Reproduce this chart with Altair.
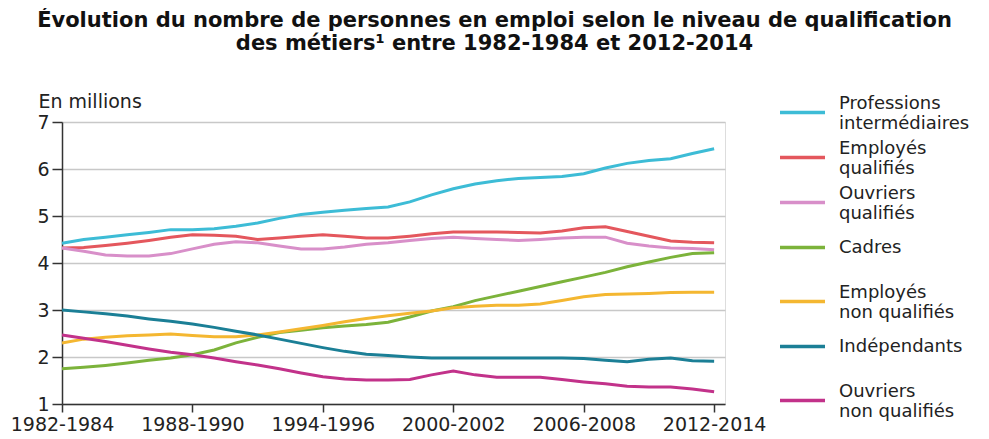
import altair as alt
import pandas as pd

periods = [f"{y}-{y+2}" for y in range(1982, 2013)]
tick_idx = [0, 6, 12, 18, 24, 30]

series_names = [
    "Professions intermédiaires",
    "Employés qualifiés",
    "Ouvriers qualifiés",
    "Cadres",
    "Employés non qualifiés",
    "Indépendants",
    "Ouvriers non qualifiés",
]
colors = ["#3dbcd6", "#e4575d", "#d88fc9", "#7cb33b", "#f4b731", "#1b7f96", "#c2328a"]

prof_inter = [4.42, 4.50, 4.55, 4.60, 4.65, 4.71, 4.71, 4.73, 4.78, 4.85, 4.95, 5.03, 5.08, 5.12, 5.16, 5.19,
              5.30, 5.45, 5.58, 5.68, 5.75, 5.80, 5.82, 5.84, 5.90, 6.02, 6.12, 6.18, 6.22, 6.33, 6.43]
emp_qual = [4.32, 4.33, 4.37, 4.42, 4.48, 4.55, 4.60, 4.59, 4.57, 4.50, 4.53, 4.57, 4.60, 4.57, 4.53, 4.53,
            4.57, 4.62, 4.66, 4.66, 4.66, 4.65, 4.64, 4.68, 4.75, 4.77, 4.67, 4.57, 4.47, 4.44, 4.43]
ouv_qual = [4.32, 4.25, 4.17, 4.15, 4.15, 4.20, 4.30, 4.40, 4.45, 4.43, 4.36, 4.30, 4.30, 4.34, 4.40, 4.43,
            4.48, 4.52, 4.55, 4.52, 4.50, 4.48, 4.50, 4.53, 4.55, 4.55, 4.42, 4.36, 4.32, 4.31, 4.28]
cadres = [1.75, 1.78, 1.82, 1.87, 1.93, 1.98, 2.05, 2.15, 2.30, 2.42, 2.52, 2.57, 2.62, 2.66, 2.69, 2.74,
          2.85, 2.98, 3.07, 3.20, 3.30, 3.40, 3.50, 3.60, 3.70, 3.80, 3.92, 4.02, 4.12, 4.20, 4.22]
emp_nonqual = [2.30, 2.38, 2.42, 2.45, 2.47, 2.49, 2.46, 2.43, 2.43, 2.47, 2.53, 2.60, 2.67, 2.75, 2.82, 2.88,
               2.93, 2.98, 3.05, 3.08, 3.10, 3.10, 3.13, 3.20, 3.28, 3.33, 3.34, 3.35, 3.37, 3.38, 3.38]
independants = [3.00, 2.96, 2.92, 2.87, 2.81, 2.76, 2.70, 2.63, 2.55, 2.47, 2.38, 2.29, 2.20, 2.12, 2.06, 2.03,
                2.00, 1.98, 1.98, 1.98, 1.98, 1.98, 1.98, 1.98, 1.97, 1.93, 1.90, 1.95, 1.98, 1.92, 1.91]
ouv_nonqual = [2.47, 2.40, 2.33, 2.25, 2.17, 2.10, 2.05, 1.98, 1.90, 1.83, 1.75, 1.66, 1.58, 1.53, 1.51, 1.51,
               1.52, 1.62, 1.70, 1.62, 1.57, 1.57, 1.57, 1.52, 1.47, 1.43, 1.38, 1.36, 1.36, 1.32, 1.26]

values = [prof_inter, emp_qual, ouv_qual, cadres, emp_nonqual, independants, ouv_nonqual]

rows = []
for k, (name, vals) in enumerate(zip(series_names, values)):
    for i, v in enumerate(vals):
        rows.append({"idx": i, "periode": periods[i], "serie": name, "valeur": v, "ordre": k})
df = pd.DataFrame(rows)

lbl_expr = (
    "datum.label == 'Professions intermédiaires' ? ['Professions', 'intermédiaires'] : "
    "datum.label == 'Employés qualifiés' ? ['Employés', 'qualifiés'] : "
    "datum.label == 'Ouvriers qualifiés' ? ['Ouvriers', 'qualifiés'] : "
    "datum.label == 'Employés non qualifiés' ? ['Employés', 'non qualifiés'] : "
    "datum.label == 'Ouvriers non qualifiés' ? ['Ouvriers', 'non qualifiés'] : [datum.label, '']"
)
baseline_expr = "datum.label == 'Cadres' || datum.label == 'Indépendants' ? 'middle' : 'bottom'"
x_lbl_expr = "[" + ",".join(f"'{p}'" for p in periods) + "][datum.value]"

FONT = "DejaVu Sans"
TXT = "#222222"

chart = alt.Chart(df).mark_line(strokeWidth=3).encode(
    x=alt.X("idx:Q",
            scale=alt.Scale(domain=[0, 30.5], nice=False, zero=False),
            axis=alt.Axis(values=tick_idx, labelExpr=x_lbl_expr, title=None, grid=False,
                          tickSize=8, tickWidth=1.5, tickColor="#333333", domainColor="#333333",
                          domainWidth=1.5, labelFont=FONT, labelFontSize=19, labelColor=TXT,
                          labelPadding=3, labelFlush=False)),
    y=alt.Y("valeur:Q",
            scale=alt.Scale(domain=[1, 7], nice=False, zero=False),
            axis=alt.Axis(values=[1, 2, 3, 4, 5, 6, 7], title="En millions", titleAngle=0,
                          titleAlign="left", titleBaseline="alphabetic", titleX=-24, titleY=-15,
                          titleFont=FONT, titleFontSize=19, titleFontWeight="normal", titleColor=TXT,
                          grid=True, gridColor="#c8c8c8", gridWidth=1.5,
                          tickSize=10, tickWidth=1.5, tickColor="#333333", domainColor="#333333",
                          domainWidth=1.5, labelFont=FONT, labelFontSize=19, labelColor=TXT,
                          labelPadding=3)),
    color=alt.Color("serie:N",
                    scale=alt.Scale(domain=series_names, range=colors),
                    sort=series_names,
                    legend=alt.Legend(title=None, orient="none", legendX=716, legendY=-34,
                                      symbolType="M-1,0H1", symbolSize=2025, symbolStrokeWidth=3.5,
                                      labelExpr=lbl_expr, labelBaseline={"expr": baseline_expr},
                                      labelFont=FONT, labelFontSize=18,
                                      labelColor=TXT, labelLimit=300, rowPadding=0,
                                      labelOffset=12, padding=0)),
    order=alt.Order("ordre:Q", sort="descending"),
    detail="serie:N",
).properties(
    width=663,
    height=282,
    autosize=alt.AutoSizeParams(type="none"),
    padding={"left": 54, "top": 114, "right": 250, "bottom": 30},
    title=alt.Title(
        ["Évolution du nombre de personnes en emploi selon le niveau de qualification",
         "des métiers¹ entre 1982-1984 et 2012-2014"],
        font=FONT, fontSize=21, fontWeight="bold", color="#111111", anchor="middle",
        offset=34, lineHeight=23, dx=101,
    ),
).configure_view(stroke=None).configure(background="white")

chart.save("out.html", embed_options={"renderer": "svg", "actions": False})
